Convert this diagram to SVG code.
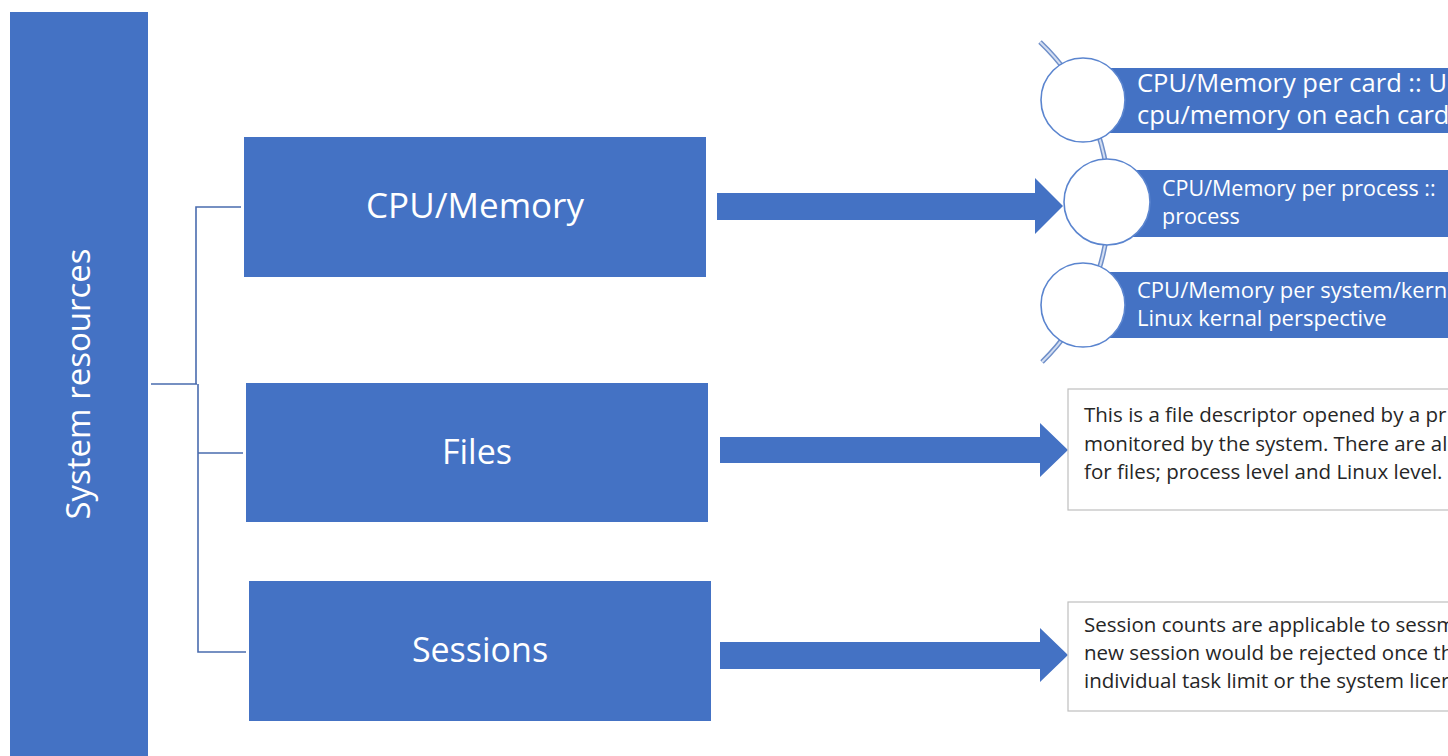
<svg xmlns="http://www.w3.org/2000/svg" width="1448" height="756" viewBox="0 0 1448 756">
  <style>
    .blk { fill: #4472c4; }
    .lbl { fill: #ffffff; font-family: "Open Sans", "Noto Sans", sans-serif; text-anchor: middle; }
    .bar-txt { fill: #ffffff; font-family: "Open Sans", "Noto Sans", sans-serif; }
    .note { fill: #ffffff; stroke: #bfbfbf; stroke-width: 1.2; }
    .note-txt { fill: #262626; font-family: "Open Sans", "Noto Sans", sans-serif; font-size: 20.5px; }
    .tree { fill: none; stroke: #4a6cae; stroke-width: 1.6; }
    .ring { fill: #ffffff; stroke: #5b85cf; stroke-width: 1.6; }
  </style>

  <rect width="1448" height="756" fill="#ffffff"/>

  <!-- root column -->
  <g id="system-resources">
    <rect class="blk" x="10" y="12" width="138" height="744"/>
    <text class="lbl" font-size="33" transform="translate(90,384) rotate(-90)">System resources</text>
  </g>

  <!-- tree connectors and block arrows -->
  <g id="connectors">
    <path class="tree" d="M151,384 H197 M196,384 V207 H241 M198,384 V652 H246 M198,453 H243"/>
    <polygon class="blk" points="717,193 1035,193 1035,178 1063,206 1035,234 1035,220 717,220"/>
    <polygon class="blk" points="720,437 1040,437 1040,423 1068,450 1040,477 1040,463 720,463"/>
    <polygon class="blk" points="720,642 1040,642 1040,628 1068,655 1040,682 1040,669 720,669"/>
  </g>

  <g id="cpu-memory">
    <rect class="blk" x="244" y="137" width="462" height="140"/>
    <text class="lbl" font-size="35" x="475" y="218">CPU/Memory</text>
  </g>

  <g id="files">
    <rect class="blk" x="246" y="383" width="462" height="139"/>
    <text class="lbl" font-size="34" x="477" y="464">Files</text>
  </g>

  <g id="sessions">
    <rect class="blk" x="249" y="581" width="462" height="140"/>
    <text class="lbl" font-size="34" x="480" y="662">Sessions</text>
  </g>

  <!-- curved list: arc behind three rings -->
  <g id="cpu-arc">
    <path d="M1040,42 A222,222 0 0 1 1042,362" fill="none" stroke="#6f8fc9" stroke-width="5"/>
    <path d="M1040,42 A222,222 0 0 1 1042,362" fill="none" stroke="#d3def2" stroke-width="2"/>
  </g>

  <g id="per-card">
    <rect class="blk" x="1100" y="68" width="348" height="65"/>
    <circle class="ring" cx="1083" cy="100" r="42"/>
    <text class="bar-txt" font-size="25.5" x="1137" y="92">CPU/Memory per card :: U</text>
    <text class="bar-txt" font-size="25.5" x="1137" y="124">cpu/memory on each card</text>
  </g>

  <g id="per-process">
    <rect class="blk" x="1120" y="170" width="328" height="67"/>
    <circle class="ring" cx="1107" cy="202" r="43"/>
    <text class="bar-txt" font-size="21.5" x="1162" y="196">CPU/Memory per process ::</text>
    <text class="bar-txt" font-size="21.5" x="1162" y="224">process</text>
  </g>

  <g id="per-system">
    <rect class="blk" x="1100" y="272" width="348" height="66"/>
    <circle class="ring" cx="1083" cy="305" r="42"/>
    <text class="bar-txt" font-size="22" x="1137" y="298">CPU/Memory per system/kern</text>
    <text class="bar-txt" font-size="22" x="1137" y="326">Linux kernal perspective</text>
  </g>

  <g id="files-note">
    <rect class="note" x="1068" y="389" width="400" height="121"/>
    <text class="note-txt" x="1084" y="422">This is a file descriptor opened by a pr</text>
    <text class="note-txt" x="1084" y="451">monitored by the system. There are al</text>
    <text class="note-txt" x="1084" y="479">for files; process level and Linux level.</text>
  </g>

  <g id="sessions-note">
    <rect class="note" x="1068" y="602" width="400" height="109"/>
    <text class="note-txt" x="1084" y="632">Session counts are applicable to sessm</text>
    <text class="note-txt" x="1084" y="660">new session would be rejected once th</text>
    <text class="note-txt" x="1084" y="688">individual task limit or the system licer</text>
  </g>
</svg>
